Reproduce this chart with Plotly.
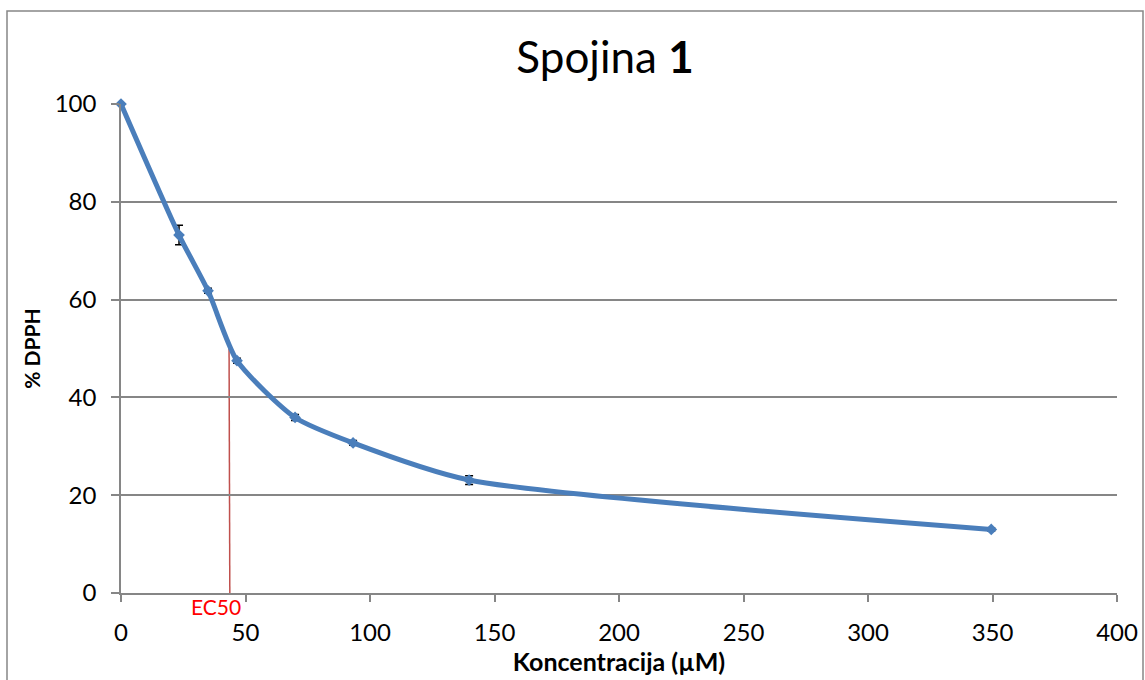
import plotly.graph_objects as go

# Data
concentration = [0, 23.3, 34.95, 46.6, 69.9, 93.2, 139.8, 349.5]
dpph_percent = [100, 73.2, 61.8, 47.5, 35.9, 30.7, 23.1, 13.0]
dpph_error = [0.2, 2.0, 0.5, 0.5, 0.6, 0.5, 0.9, 0.3]
ec50 = 43.4
ec50_level = 50
x_ticks = [0, 50, 100, 150, 200, 250, 300, 350, 400]
y_ticks = [0, 20, 40, 60, 80, 100]

FONT = "Lato"
GRID = "#868686"
BLUE = "#4A7EBB"

fig = go.Figure()
fig.add_trace(go.Scatter(
    x=concentration, y=dpph_percent,
    mode="lines+markers",
    line=dict(color=BLUE, width=5, shape="spline", smoothing=0.65),
    marker=dict(symbol="diamond", size=9, color=BLUE),
    error_y=dict(type="data", array=dpph_error, visible=True,
                 color="black", thickness=1.5, width=4),
    showlegend=False, cliponaxis=False,
))

# EC50 line
fig.add_shape(type="line", xref="x", yref="y",
              x0=ec50, y0=ec50_level, x1=ec50 + 0.3, y1=0,
              line=dict(color="#C0504D", width=1.5), layer="below")
fig.add_annotation(x=ec50, y=0, xref="x", yref="y", text="EC50",
                   showarrow=False, xanchor="center", yanchor="top",
                   xshift=-13, yshift=1,
                   font=dict(family=FONT, size=21, color="#FF0000"))

# Outer chart border
fig.add_shape(type="rect", xref="paper", yref="paper",
              x0=(7 - 121) / 996, x1=(1143 - 121) / 996,
              y0=(593 - 700) / 489, y1=(593 - 11) / 489,
              line=dict(color=GRID, width=1.5), fillcolor="rgba(0,0,0,0)",
              layer="below")

fig.update_layout(
    width=1145, height=680,
    margin=dict(l=121, r=28, t=104, b=87, autoexpand=False),
    paper_bgcolor="white", plot_bgcolor="white",
    font=dict(family=FONT, color="black"),
    title=dict(text="Spojina <b>1</b>", x=(605 - 121) / 996, xref="paper",
               xanchor="center", y=1 - 58 / 680, yanchor="middle",
               font=dict(family=FONT, size=44, color="black")),
)
fig.update_xaxes(
    range=[0, 400], tickvals=x_ticks, showgrid=False, zeroline=False,
    automargin=False,
    showline=True, linecolor=GRID, linewidth=1.5,
    ticks="outside", ticklen=7, tickcolor=GRID, tickwidth=1.5,
    tickfont=dict(family=FONT, size=24, color="black"),
    ticklabelstandoff=10,
    title=dict(text="<b>Koncentracija (µM)</b>", standoff=2,
               font=dict(family=FONT, size=25, color="black")),
)
fig.update_yaxes(
    range=[0, 100], tickvals=y_ticks, showgrid=True, gridcolor=GRID,
    gridwidth=1.5, zeroline=False, automargin=False,
    showline=True, linecolor=GRID, linewidth=1.5,
    ticks="outside", ticklen=8, tickcolor=GRID, tickwidth=1.5,
    tickfont=dict(family=FONT, size=24, color="black"),
    ticklabelstandoff=10,
    title=dict(text="<b>% DPPH</b>", standoff=8,
               font=dict(family=FONT, size=21, color="black")),
)

fig.write_html("out.html",
               config={"displayModeBar": False},
               post_script="document.body.style.margin='0';"
                           "document.body.style.overflow='hidden';")
